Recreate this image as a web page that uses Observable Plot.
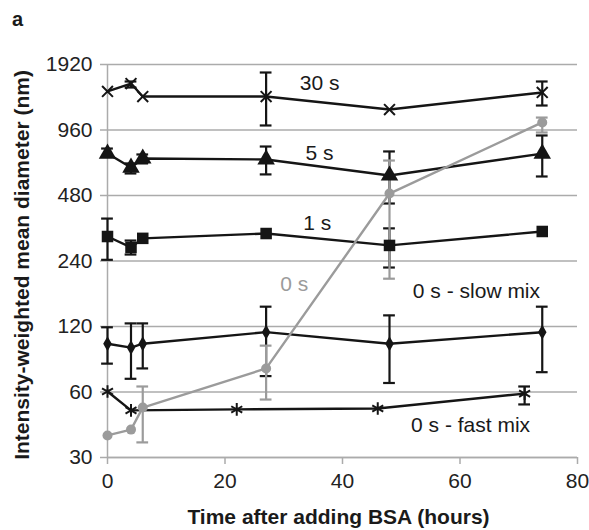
<!DOCTYPE html>
<html>
<head>
<meta charset="utf-8">
<script src="https://cdn.jsdelivr.net/npm/d3@7"></script>
<script src="https://cdn.jsdelivr.net/npm/@observablehq/plot@0.6"></script>
<style>
  html, body { margin: 0; padding: 0; background: #fff; }
  #chart svg { display: block; }
</style>
</head>
<body>
<div id="chart"></div>
<script>
// ---- data ----
const xTicks = [0, 20, 40, 60, 80];
const yTicks = [30, 60, 120, 240, 480, 960, 1920];

const t30 = [0, 4, 6, 27, 48, 74];
const v30 = [1443, 1570, 1368, 1368, 1192, 1428];
const lo30 = [null, 1505, null, 1007, null, 1244];
const hi30 = [null, 1604, null, 1764, null, 1604];

const t5 = [0, 4, 6, 27, 48, 74];
const v5 = [748, 645, 710, 703, 593, 748];
const lo5 = [725, 606, 674, 600, 441, 587];
const hi5 = [789, 674, 741, 806, 765, 906];

const t1 = [0, 4, 6, 27, 48, 74];
const v1 = [311, 277, 305, 321, 283, 328];
const lo1 = [243, 257, null, null, 224, null];
const hi1 = [376, 298, null, null, 339, null];

const tSlow = [0, 4, 6, 27, 48, 74];
const vSlow = [100, 96, 100, 113, 100, 113];
const loSlow = [81, 69, 77, 71, 66, 74];
const hiSlow = [119, 124, 124, 148, 135, 148];

const tFast = [0, 4, 22, 46, 71];
const vFast = [60.3, 49.4, 49.9, 50.4, 59.0];
const loFast = [null, null, null, null, 52.6];
const hiFast = [null, null, null, null, 63.6];

const t0 = [0, 4, 6, 27, 48, 74];
const v0 = [37.9, 40.3, 50.9, 77, 490, 1040];
const lo0 = [null, null, 35.2, 55.4, 199, 935];
const hi0 = [null, null, 63.6, 98, 695, 1095];

const labelText = ["30 s", "5 s", "1 s", "0 s", "0 s - slow mix", "0 s - fast mix"];
const labelT = [36.1, 36.1, 35.7, 31.8, 62.8, 61.8];
const labelV = [1570, 753, 359, 187, 174, 42.3];
const labelGray = [false, false, false, true, false, false];

const xLabel = "Time after adding BSA (hours)";
const yLabel = "Intensity-weighted mean diameter (nm)";
const panelLetter = "a";

// ---- build tables ----
function rows(name, t, v, lo, hi) {
  return t.map((d, i) => ({series: name, t: d, v: v[i], lo: lo[i], hi: hi[i]}));
}
const series = {
  s30: rows("30 s", t30, v30, lo30, hi30),
  s5: rows("5 s", t5, v5, lo5, hi5),
  s1: rows("1 s", t1, v1, lo1, hi1),
  slow: rows("0 s - slow mix", tSlow, vSlow, loSlow, hiSlow),
  fast: rows("0 s - fast mix", tFast, vFast, loFast, hiFast),
  s0: rows("0 s", t0, v0, lo0, hi0)
};
const labels = labelText.map((s, i) => ({s, t: labelT[i], v: labelV[i], gray: labelGray[i]}));

const BLACK = "#151515";
const GRAY = "#9b9b9b";
const GRID = "#ababab";

function errMarks(data, color) {
  const e = data.filter(d => d.lo != null);
  return [
    Plot.ruleX(e, {x: "t", y1: "lo", y2: "hi", stroke: color, strokeWidth: 2.2}),
    Plot.ruleY(e, {y: "lo", x1: d => d.t - 1, x2: d => d.t + 1, stroke: color, strokeWidth: 2.2}),
    Plot.ruleY(e, {y: "hi", x1: d => d.t - 1, x2: d => d.t + 1, stroke: color, strokeWidth: 2.2})
  ];
}
function lineMark(data, color) {
  return Plot.line(data, {x: "t", y: "v", stroke: color, strokeWidth: 2.4});
}

const chart = Plot.plot({
  width: 589,
  height: 530,
  marginLeft: 107,
  marginRight: 12,
  marginTop: 64,
  marginBottom: 73,
  style: {fontFamily: "'Liberation Sans', Arial, sans-serif", fontSize: "21px", color: "#222", background: "#fff"},
  x: {domain: [0, 80], label: null},
  y: {type: "log", base: 2, domain: [30, 1920], label: null},
  marks: [
    Plot.gridY(yTicks, {stroke: GRID, strokeOpacity: 1, strokeWidth: 1.5}),
    Plot.ruleX([0], {stroke: GRID, strokeWidth: 1.5, y1: 30, y2: 1920}),
    Plot.axisY({ticks: yTicks, tickFormat: d => String(d), tickSize: 7, tickPadding: 8, stroke: GRID, strokeWidth: 1.5, label: null, fill: "#222"}),
    Plot.axisX({ticks: xTicks, tickFormat: d => String(d), tickSize: 7, tickPadding: 9, stroke: GRID, strokeWidth: 1.5, label: null, fill: "#222"}),
    Plot.ruleY([30], {stroke: GRID, strokeWidth: 1.5}),

    // error bars
    ...errMarks(series.s30, BLACK),
    ...errMarks(series.s5, BLACK),
    ...errMarks(series.s1, BLACK),
    ...errMarks(series.slow, BLACK),
    ...errMarks(series.fast, BLACK),

    // lines
    lineMark(series.s30, BLACK),
    lineMark(series.s5, BLACK),
    lineMark(series.s1, BLACK),
    lineMark(series.slow, BLACK),
    lineMark(series.fast, BLACK),

    // gray 0 s series on top
    ...errMarks(series.s0, GRAY),
    lineMark(series.s0, GRAY),

    // markers
    Plot.dot(series.s30, {x: "t", y: "v", symbol: "times", r: 5, stroke: BLACK, strokeWidth: 2}),
    Plot.dot(series.s5, {x: "t", y: "v", symbol: "triangle", r: 6.5, fill: BLACK, stroke: "none"}),
    Plot.dot(series.s1, {x: "t", y: "v", symbol: "square", r: 6.5, fill: BLACK, stroke: "none"}),
    Plot.dot(series.slow, {x: "t", y: "v", symbol: "diamond", r: 4.5, fill: BLACK, stroke: "none"}),
    Plot.dot(series.fast, {x: "t", y: "v", symbol: "asterisk", r: 6, stroke: BLACK, strokeWidth: 2}),
    Plot.dot(series.s0, {x: "t", y: "v", symbol: "circle", r: 5, fill: GRAY, stroke: "none"}),

    // series labels
    Plot.text(labels, {x: "t", y: "v", text: "s", fill: d => d.gray ? GRAY : "#1a1a1a", fontSize: 21, textAnchor: "middle", lineAnchor: "middle"}),

    // axis titles and panel letter
    Plot.text([yLabel], {frameAnchor: "left", dx: -85, dy: 4, rotate: -90, fontSize: 21, fontWeight: "bold", fill: "#1a1a1a", textAnchor: "middle", lineAnchor: "middle"}),
    Plot.text([xLabel], {frameAnchor: "bottom", dx: -4, dy: 60, fontSize: 21, fontWeight: "bold", fill: "#1a1a1a", textAnchor: "middle", lineAnchor: "middle"}),
    Plot.text([panelLetter], {frameAnchor: "top-left", dx: -90, dy: -45, fontSize: 20, fontWeight: "bold", fill: "#1a1a1a", textAnchor: "middle", lineAnchor: "middle"})
  ]
});
document.getElementById("chart").appendChild(chart);
</script>
</body>
</html>
